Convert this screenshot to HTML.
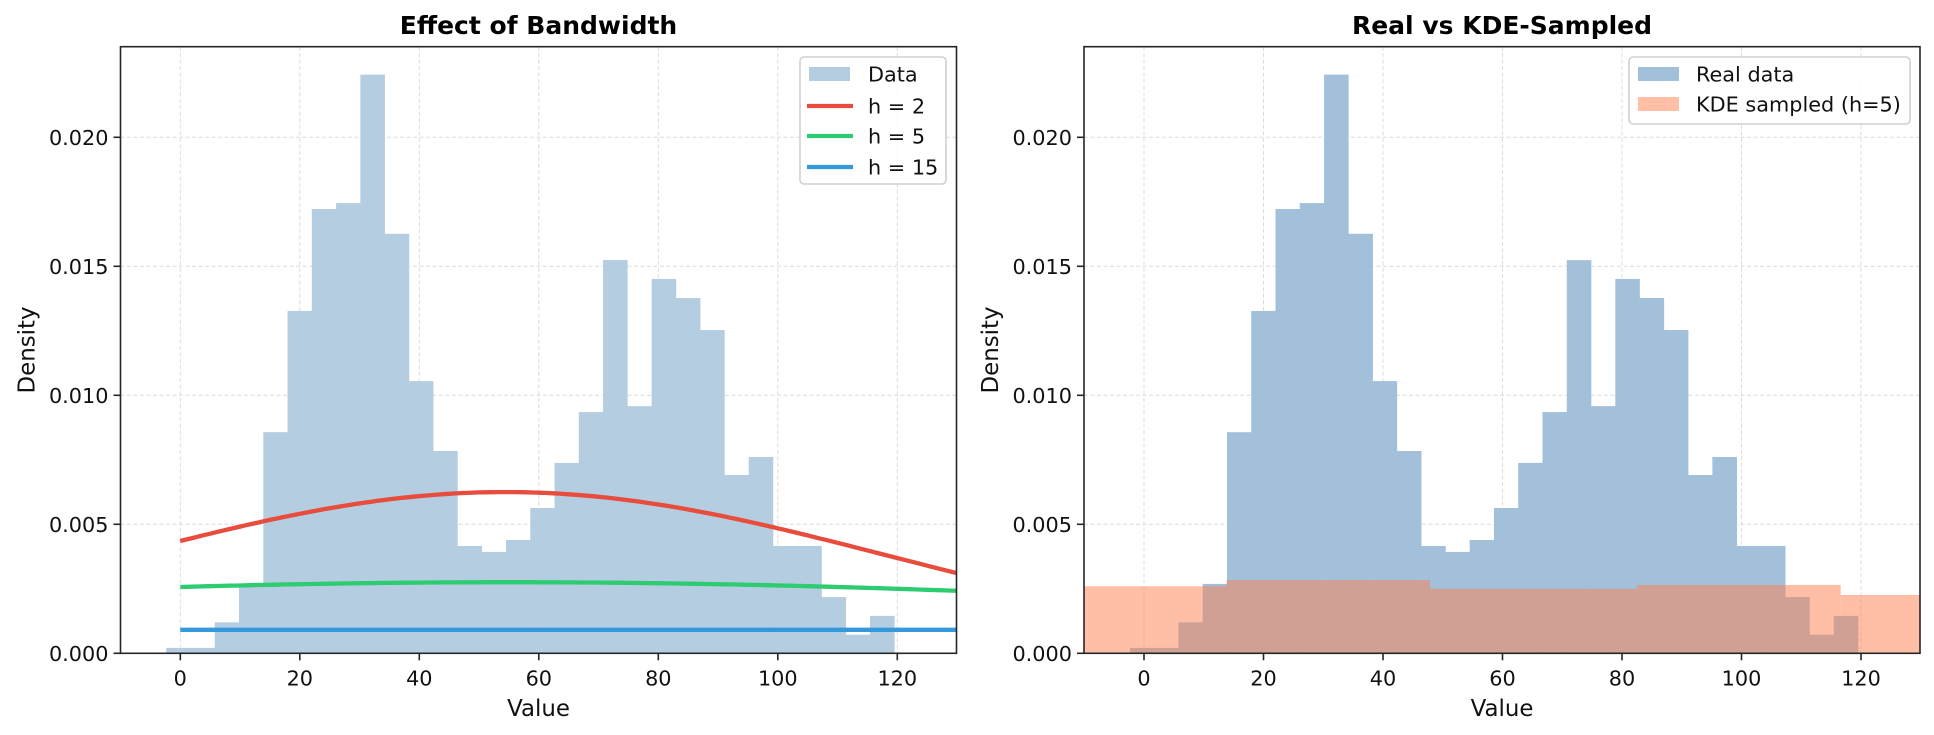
<!DOCTYPE html>
<html><head><meta charset="utf-8">
<style>
html,body{margin:0;padding:0;background:#fff;}
svg{display:block;font-family:"DejaVu Sans","Liberation Sans",sans-serif;}
</style></head>
<body>
<svg id="s" width="1934" height="735" viewBox="0 0 1934 735" xmlns="http://www.w3.org/2000/svg"></svg>
<script>
const S=document.getElementById('s');
let out='';
const Y0=653.3, YT=46.7, PY=25800, SX=5.975;
const axes=[{L:120.5,R:956.5,x0:180.3,title:'Effect of Bandwidth'},{L:1084,R:1920,x0:1144,title:'Real vs KDE-Sampled'}];
const dens=[0.00021,0.00021,0.0012,0.00269,0.00857,0.01327,0.01722,0.01745,0.02243,0.01626,0.01055,0.00784,0.00416,0.00393,0.00439,0.00563,0.00738,0.00935,0.01524,0.00958,0.01451,0.01377,0.01253,0.00691,0.00761,0.00416,0.00416,0.00218,0.00072,0.00145];
const e0=-2.36,w=4.062;
function y(d){return Y0-d*PY;}
axes.forEach((a,i)=>{
  const X=v=>a.x0+v*SX;
  out+=`<defs><clipPath id="c${i}"><rect x="${a.L}" y="${YT}" width="${a.R-a.L}" height="${Y0-YT}"/></clipPath></defs>`;
  // grid
  for(let t=0;t<=120;t+=20){out+=`<line x1="${X(t)}" x2="${X(t)}" y1="${YT}" y2="${Y0}" stroke="#dcdcdc" stroke-width="1" stroke-dasharray="4,2.5"/>`;}
  for(let k=1;k<=4;k++){const yy=y(k*0.005);out+=`<line x1="${a.L}" x2="${a.R}" y1="${yy}" y2="${yy}" stroke="#dcdcdc" stroke-width="1" stroke-dasharray="4,2.5"/>`;}
  out+=`<g clip-path="url(#c${i})">`;
  const fill=i==0?'#b5cde1':'#a2c0d9';
  dens.forEach((d,k)=>{const x1=X(e0+k*w),x2=X(e0+(k+1)*w);out+=`<rect x="${x1}" y="${y(d)}" width="${x2-x1+0.3}" height="${Y0-y(d)}" fill="${fill}"/>`;});
  if(i==0){
    const curve=(f,c)=>{let p='';for(let v=0;v<=130;v+=1){p+=(v?'L':'M')+X(v).toFixed(1)+','+y(f(v)).toFixed(1);}out+=`<path d="${p}" fill="none" stroke="${c}" stroke-width="4.3"/>`;};
    curve(v=>0.00625*Math.exp(-Math.pow(v-54.4,2)/(2*4087)),'#e74c3c');
    curve(v=>0.002755*Math.exp(-Math.pow(v-55,2)/(2*21760)),'#2ecc71');
    curve(v=>0.00091,'#3498db');
  } else {
    const kb=[[-25,13.8,0.00260],[13.8,47.9,0.00284],[47.9,82.5,0.00250],[82.5,116.6,0.00265],[116.6,140,0.00226]];
    kb.forEach(b=>{out+=`<rect x="${X(b[0])}" y="${y(b[2])}" width="${X(b[1])-X(b[0])}" height="${Y0-y(b[2])}" fill="#ff7f50" fill-opacity="0.5"/>`;});
  }
  out+='</g>';
  // spines
  out+=`<rect x="${a.L}" y="${YT}" width="${a.R-a.L}" height="${Y0-YT}" fill="none" stroke="#262626" stroke-width="1.6"/>`;
  // ticks
  for(let t=0;t<=120;t+=20){out+=`<line x1="${X(t)}" x2="${X(t)}" y1="${Y0}" y2="${Y0+7}" stroke="#262626" stroke-width="1.6"/><text x="${X(t)}" y="${Y0+32}" font-size="20.8" text-anchor="middle" fill="#111">${t}</text>`;}
  for(let k=0;k<=4;k++){const yy=y(k*0.005);out+=`<line x1="${a.L-7}" x2="${a.L}" y1="${yy}" y2="${yy}" stroke="#262626" stroke-width="1.6"/><text x="${a.L-12}" y="${yy+7.5}" font-size="20.8" text-anchor="end" fill="#111">${(k*0.005).toFixed(3)}</text>`;}
  const cx=(a.L+a.R)/2;
  out+=`<text x="${cx}" y="34" font-size="25" font-weight="bold" text-anchor="middle" fill="#000">${a.title}</text>`;
  out+=`<text x="${cx}" y="716" font-size="22.9" text-anchor="middle" fill="#111">Value</text>`;
  out+=`<text transform="translate(${a.L-86},350) rotate(-90)" font-size="22.9" text-anchor="middle" fill="#111">Density</text>`;
});
// legend 1
out+=`<rect x="800" y="57" width="146" height="127" rx="4" fill="#fff" fill-opacity="0.85" stroke="#d0d0d0" stroke-width="1.6"/>`;
out+=`<rect x="809" y="67" width="41" height="14" fill="#b5cde1"/><text x="868" y="81.5" font-size="20.8" fill="#111">Data</text>`;
[['#e74c3c','h = 2',106],['#2ecc71','h = 5',136],['#3498db','h = 15',167]].forEach(r=>{out+=`<line x1="807" x2="853" y1="${r[2]}" y2="${r[2]}" stroke="${r[0]}" stroke-width="4.3"/><text x="868" y="${r[2]+7.5}" font-size="20.8" fill="#111">${r[1]}</text>`;});
// legend 2
out+=`<rect x="1629" y="57" width="281" height="67" rx="4" fill="#fff" fill-opacity="0.85" stroke="#d0d0d0" stroke-width="1.6"/>`;
out+=`<rect x="1638" y="67" width="41" height="14" fill="#a2c0d9"/><text x="1696" y="81.5" font-size="20.8" fill="#111">Real data</text>`;
out+=`<rect x="1638" y="97" width="41" height="14" fill="#ffbfa7"/><text x="1696" y="111.5" font-size="20.8" fill="#111">KDE sampled (h=5)</text>`;
S.innerHTML=out;
</script>
</body></html>
